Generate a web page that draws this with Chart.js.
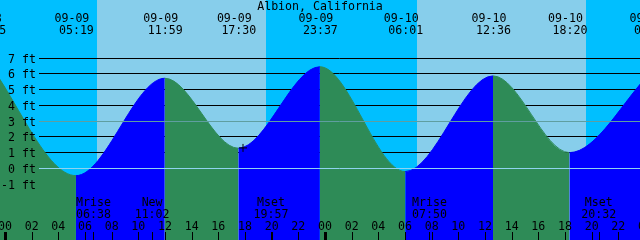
<!DOCTYPE html>
<html>
<head>
<meta charset="utf-8">
<script src="https://cdn.jsdelivr.net/npm/chart.js@4.4.0/dist/chart.umd.min.js"></script>
<style>
  html, body { margin: 0; padding: 0; background: #00bfff; overflow: hidden; }
  #wrap { width: 640px; height: 240px; }
</style>
</head>
<body>
<div id="wrap"><canvas id="tide" width="640" height="240"></canvas></div>
<script>
// Albion, California tide graph, 09-09 .. 09-10
const title = 'Albion, California';

// highs and lows (first and last are just off the edges of the graph)
const extremeDate = ['09-08', '09-09', '09-09', '09-09', '09-09', '09-10', '09-10', '09-10', '09-11'];
const extremeTime = ['22:45', '05:19', '11:59', '17:30', '23:37', '06:01', '12:36', '18:20', '00:27'];
const extremeFeet = [6.7, -0.46, 5.72, 1.28, 6.45, -0.2, 5.87, 1.0, 6.1];

// sunrise / sunset (day = light band)
const sunriseDate = ['09-09', '09-10'];
const sunriseTime = ['06:54', '06:53'];
const sunsetDate = ['09-09', '09-10'];
const sunsetTime = ['19:35', '19:34'];

// moon events along the bottom
const moonLabel = ['Mrise', 'New', 'Mset', 'Mrise', 'Mset'];
const moonDate = ['09-09', '09-09', '09-09', '09-10', '09-10'];
const moonTime = ['06:38', '11:02', '19:57', '07:50', '20:32'];

// axis labels
const hourLabels = ['00', '02', '04', '06', '08', '10', '12', '14', '16', '18', '20', '22',
                    '00', '02', '04', '06', '08', '10', '12', '14', '16', '18', '20', '22', '00'];
const feetLabels = [7, 6, 5, 4, 3, 2, 1, 0, -1];
const gridFeet = [1, 2, 4, 5, 6, 7];
const datumFeet = [0, 3];

// "+" mark
const markHour = [17.85];
const markFeet = [1.3];

const SKY_NIGHT = '#00bfff';
const SKY_DAY = '#87ceeb';
const RISE = '#0000ff';
const FALL = '#2e8b57';
const FONT = '11.6px "DejaVu Sans Mono", monospace';

function toHour(date, time) {
    const day = parseInt(date.slice(3), 10) - 9;
    const [h, m] = time.split(':').map(Number);
    return day * 24 + h + m / 60;
}

const tidePoints = extremeDate.map((d, i) => ({ x: toHour(d, extremeTime[i]), y: extremeFeet[i] }));
const markPoints = markHour.map((h, i) => ({ x: h, y: markFeet[i] }));

const tidePlugin = {
    id: 'tideDecor',
    beforeDatasetsDraw(chart) {
        const { ctx, scales: { x, y }, width, height } = chart;
        ctx.save();
        ctx.fillStyle = SKY_NIGHT;
        ctx.fillRect(0, 0, width, height);
        ctx.fillStyle = SKY_DAY;
        for (let i = 0; i < sunriseDate.length; i++) {
            const x0 = x.getPixelForValue(toHour(sunriseDate[i], sunriseTime[i]));
            const x1 = x.getPixelForValue(toHour(sunsetDate[i], sunsetTime[i]));
            ctx.fillRect(Math.round(x0), 0, Math.round(x1) - Math.round(x0), height);
        }
        // black grid lines sit behind the water
        ctx.strokeStyle = '#000';
        ctx.lineWidth = 1;
        gridFeet.forEach(f => {
            const py = Math.floor(y.getPixelForValue(f)) + 0.5;
            ctx.beginPath();
            ctx.moveTo(39, py);
            ctx.lineTo(width, py);
            ctx.stroke();
        });
        ctx.restore();
    },
    afterDatasetsDraw(chart) {
        const { ctx, scales: { x, y }, width } = chart;
        ctx.save();
        // datum lines over the water
        datumFeet.forEach(f => {
            const py = Math.floor(y.getPixelForValue(f)) + 0.5;
            ctx.strokeStyle = f === 0 ? '#8fd3f0' : '#5f9ea0';
            ctx.lineWidth = 1;
            ctx.beginPath();
            ctx.moveTo(39, py);
            ctx.lineTo(width, py);
            ctx.stroke();
        });

        ctx.font = FONT;
        ctx.fillStyle = '#000';
        ctx.textBaseline = 'alphabetic';

        // y labels
        ctx.textAlign = 'right';
        feetLabels.forEach(f => {
            const py = Math.floor(y.getPixelForValue(f));
            ctx.fillText(f + ' ft', 36, py + 4.5);
        });

        // title
        ctx.textAlign = 'center';
        ctx.fillText(title, 320, 10);

        // high / low times
        for (let i = 0; i < extremeDate.length; i++) {
            const px = x.getPixelForValue(toHour(extremeDate[i], extremeTime[i]));
            ctx.fillText(extremeDate[i], px - 4, 22);
            ctx.fillText(extremeTime[i], px + 0.5, 34);
        }

        // moon events
        for (let i = 0; i < moonLabel.length; i++) {
            const px = x.getPixelForValue(toHour(moonDate[i], moonTime[i]));
            ctx.fillText(moonLabel[i], px, 206);
            ctx.fillText(moonTime[i], px, 218);
            ctx.fillRect(Math.round(px), 232, 1, 8);
        }

        // hour ticks
        hourLabels.forEach((lab, i) => {
            const h = i * 2;
            const px = x.getPixelForValue(h);
            ctx.fillText(lab, px, 230);
            if (h % 24 === 0) {
                ctx.fillRect(Math.round(px) - 1, 232, 3, 8);
            } else {
                ctx.fillRect(Math.round(px), 232, 1, 8);
            }
        });
        ctx.restore();
    }
};

const chart = new Chart(document.getElementById('tide'), {
    type: 'line',
    data: {
        datasets: [
            {
                type: 'scatter',
                data: markPoints,
                pointStyle: 'cross',
                pointRadius: 4,
                borderColor: '#000',
                borderWidth: 1,
                order: 0
            },
            {
                data: tidePoints,
                fill: 'start',
                cubicInterpolationMode: 'monotone',
                pointRadius: 0,
                borderWidth: 1,
                backgroundColor: RISE,
                borderColor: RISE,
                segment: {
                    backgroundColor: c => c.p1.parsed.y > c.p0.parsed.y ? RISE : FALL,
                    borderColor: c => c.p1.parsed.y > c.p0.parsed.y ? RISE : FALL
                },
                order: 1
            }
        ]
    },
    options: {
        responsive: false,
        animation: false,
        devicePixelRatio: 1,
        layout: { padding: 0, autoPadding: false },
        plugins: { legend: { display: false }, tooltip: { enabled: false } },
        scales: {
            x: { type: 'linear', min: -0.375, max: 47.625, display: false },
            y: { min: -4.543, max: 10.685, display: false }
        }
    },
    plugins: [tidePlugin]
});
</script>
</body>
</html>
